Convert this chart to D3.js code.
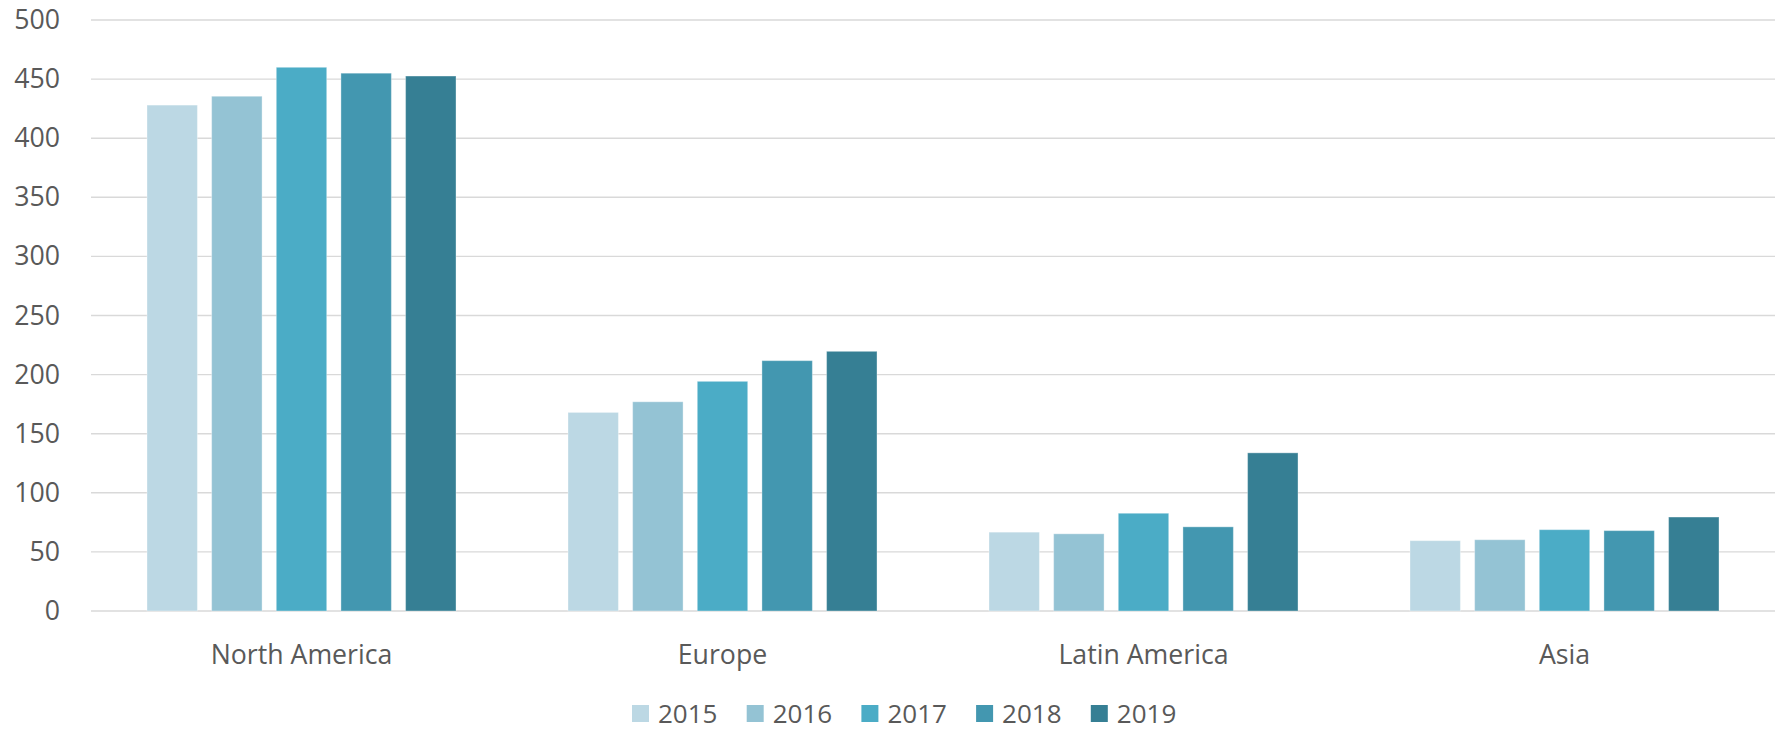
<!DOCTYPE html>
<html lang="en">
  <head>
    <meta charset="UTF-8" />
    <title>Regions by year</title>
    <script src="https://d3js.org/d3.v7.min.js"></script>
    <style>
      body {
        margin: 0;
        background: #fff;
        font-family: "Open Sans", "Noto Sans", sans-serif;
      }
      .grid line {
        stroke: #d9d9d9;
        stroke-width: 1.4px;
      }
      text {
        fill: #595959;
      }
    </style>
  </head>
  <body>
    <svg width="1781" height="731"></svg>

    <script>
      // data
      const regions = ["North America", "Europe", "Latin America", "Asia"];
      const years = ["2015", "2016", "2017", "2018", "2019"];
      const values = {
        "2015": [428, 168, 66.7, 59.5],
        "2016": [435.5, 177, 65.3, 60.3],
        "2017": [460, 194.3, 82.7, 68.8],
        "2018": [455, 211.8, 71.2, 68],
        "2019": [452.6, 219.7, 133.8, 79.5],
      };
      const colors = ["#bcd8e4", "#94c3d4", "#4bacc6", "#4397b0", "#367f94"];
      const yTicks = [0, 50, 100, 150, 200, 250, 300, 350, 400, 450, 500];

      const svg = d3.select("svg");
      const margin = { top: 20, right: 6, bottom: 120, left: 91 };
      const width = 1781 - margin.left - margin.right;
      const height = 731 - margin.top - margin.bottom;

      const g = svg
        .append("g")
        .attr("transform", `translate(${margin.left},${margin.top})`);

      const x0 = d3
        .scaleBand()
        .domain(regions)
        .range([0, width])
        .paddingInner(0.266)
        .paddingOuter(0.133);

      const x1 = d3
        .scaleBand()
        .domain(years)
        .range([0, x0.bandwidth()])
        .paddingInner(0.22);

      const y = d3.scaleLinear().domain([0, 500]).range([height, 0]);

      const color = d3.scaleOrdinal().domain(years).range(colors);

      // gridlines
      g.append("g")
        .attr("class", "grid")
        .selectAll("line")
        .data(yTicks)
        .join("line")
        .attr("x1", 0)
        .attr("x2", width)
        .attr("y1", (d) => y(d))
        .attr("y2", (d) => y(d));

      // y axis labels
      const yAxis = g
        .append("g")
        .call(d3.axisLeft(y).tickValues(yTicks).tickSize(0).tickPadding(31));
      yAxis.select(".domain").remove();
      yAxis
        .selectAll("text")
        .attr("font-family", "Open Sans")
        .attr("font-size", 26.7)
        .attr("fill", "#595959");

      // bars
      const groups = g
        .append("g")
        .selectAll("g")
        .data(regions)
        .join("g")
        .attr("transform", (d) => `translate(${x0(d)},0)`);

      groups
        .selectAll("rect")
        .data((r, i) => years.map((yr) => ({ year: yr, value: values[yr][i] })))
        .join("rect")
        .attr("x", (d) => x1(d.year))
        .attr("width", x1.bandwidth())
        .attr("y", (d) => y(d.value))
        .attr("height", (d) => y(0) - y(d.value))
        .attr("fill", (d) => color(d.year))
        .attr("stroke", "#ffffff")
        .attr("stroke-opacity", 0.35)
        .attr("stroke-width", 1);

      // category axis
      const xAxis = g
        .append("g")
        .attr("transform", `translate(0,${height})`)
        .call(d3.axisBottom(x0).tickSize(0).tickPadding(34));
      xAxis.select(".domain").remove();
      xAxis
        .selectAll("text")
        .attr("font-family", "Open Sans")
        .attr("font-size", 26.7)
        .attr("fill", "#595959");

      // legend
      const legend = svg
        .append("g")
        .attr("transform", "translate(632,705)")
        .selectAll("g")
        .data(years)
        .join("g")
        .attr("transform", (d, i) => `translate(${i * 114.7},0)`);

      legend
        .append("rect")
        .attr("width", 17)
        .attr("height", 17)
        .attr("fill", (d) => color(d));

      legend
        .append("text")
        .attr("x", 26)
        .attr("y", 8.5)
        .attr("dy", "0.35em")
        .attr("font-size", 26)
        .text((d) => d);
    </script>
  </body>
</html>
